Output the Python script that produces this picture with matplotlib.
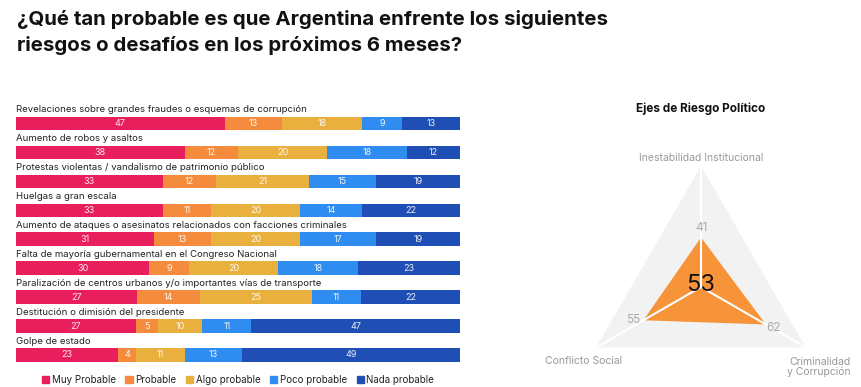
import numpy as np
import matplotlib.pyplot as plt
from matplotlib.patches import Patch

plt.rcParams['font.family'] = ['Inter', 'DejaVu Sans']

# --- data ---
riesgos = [
    'Revelaciones sobre grandes fraudes o esquemas de corrupción',
    'Aumento de robos y asaltos',
    'Protestas violentas / vandalismo de patrimonio público',
    'Huelgas a gran escala',
    'Aumento de ataques o asesinatos relacionados con facciones criminales',
    'Falta de mayoría gubernamental en el Congreso Nacional',
    'Paralización de centros urbanos y/o importantes vías de transporte',
    'Destitución o dimisión del presidente',
    'Golpe de estado',
]
categorias = ['Muy Probable', 'Probable', 'Algo probable', 'Poco probable', 'Nada probable']
muy_probable = [47, 38, 33, 33, 31, 30, 27, 27, 23]
probable = [13, 12, 12, 11, 13, 9, 14, 5, 4]
algo_probable = [18, 20, 21, 20, 20, 20, 25, 10, 11]
poco_probable = [9, 18, 15, 14, 17, 18, 11, 11, 13]
nada_probable = [13, 12, 19, 22, 19, 23, 22, 47, 49]
colores = ['#E91E5C', '#F58B3C', '#E9B03E', '#2F8CF0', '#1F4FB5']

ejes = ['Inestabilidad Institucional', 'Conflicto Social', 'Criminalidad\ny Corrupción']
valores_ejes = [41, 55, 62]

W, H = 862, 387
fig = plt.figure(figsize=(W / 100, H / 100), dpi=100)

def px_axes(x0, y0, x1, y1, **kw):
    # axes from pixel box (top-left origin)
    return fig.add_axes([x0 / W, 1 - y1 / H, (x1 - x0) / W, (y1 - y0) / H], **kw)

# title
fig.text(17 / W, 1 - 10 / H,
         '¿Qué tan probable es que Argentina enfrente los siguientes\nriesgos o desafíos en los próximos 6 meses?',
         ha='left', va='top', fontsize=14.7, fontweight='bold', color='#111111', linespacing=1.45)

# --- stacked bars ---
step = 28.96
ax = px_axes(16, 123.3 - step, 460, 355 + step)
series = np.array([muy_probable, probable, algo_probable, poco_probable, nada_probable], dtype=float)
totales = series.sum(axis=0)
y = np.arange(len(riesgos))
left = np.zeros(len(riesgos))
for vals, col, name in zip(series, colores, categorias):
    w = vals / totales * 100  # each row fills the full width
    ax.barh(y, w, left=left, height=0.46, color=col, label=name)
    for yi, l, wi, v in zip(y, left, w, vals):
        ax.text(l + wi / 2, yi, str(int(v)), ha='center', va='center', color='white', fontsize=6.5, alpha=0.9)
    left = left + w
for yi, lab in zip(y, riesgos):
    ax.text(0, yi - 0.47, lab, ha='left', va='center', fontsize=6.9, color='#222222')
ax.set_xlim(0, 100)
ax.set_ylim(len(riesgos), -1)
ax.axis('off')

handles = [Patch(color=c, label=n) for c, n in zip(colores, categorias)]
fig.legend(handles=handles, loc='center', bbox_to_anchor=(238 / W, 1 - 380 / H), ncol=5, frameon=False,
           fontsize=7, handlelength=0.75, handleheight=0.75, handletextpad=0.25, columnspacing=1.0,
           labelcolor='#222222')

# --- radar ---
s = 1.21  # px per unit
cx, cy = 701, 287
rax = px_axes(cx - 150, 140, cx + 150, 387)
rax.set_xlim(-150 / s, 150 / s)
rax.set_ylim(-(387 - cy) / s, (cy - 140) / s)
rax.axis('off')

ang = np.deg2rad([90, 210, 330])
full = np.full(3, 100)
rax.fill(full * np.cos(ang), full * np.sin(ang), color='#f2f2f2', lw=0)
for a in ang:
    rax.plot([0, 100 * np.cos(a)], [0, 100 * np.sin(a)], color='white', lw=1.5)
v = np.array(valores_ejes)
rax.fill(v * np.cos(ang), v * np.sin(ang), color='#F7943A', lw=0)

# value labels
offs = [(0, 8), (-8, 0), (6, -3)]
for val, a, (dx, dy) in zip(v, ang, offs):
    rax.text(val * np.cos(a) + dx, val * np.sin(a) + dy, str(val), ha='center', va='center',
             fontsize=8.5, color='#aaaaaa')
rax.text(0, 2, str(int(round(v.mean()))), ha='center', va='center', fontsize=17, color='#111111')

# axis labels
rax.text(0, 107, ejes[0], ha='center', va='center', fontsize=7.5, color='#999999')
rax.text(-97, -61, ejes[1], ha='center', va='center', fontsize=7.5, color='#999999')
rax.text(97, -66, ejes[2], ha='center', va='center', fontsize=7.5, color='#999999',
         multialignment='right', linespacing=1.0)

fig.text(701 / W, 1 - 109 / H, 'Ejes de Riesgo Político', ha='center', va='center',
         fontsize=8.5, fontweight='bold', color='#111111')

fig.savefig('out.png', dpi=100)
